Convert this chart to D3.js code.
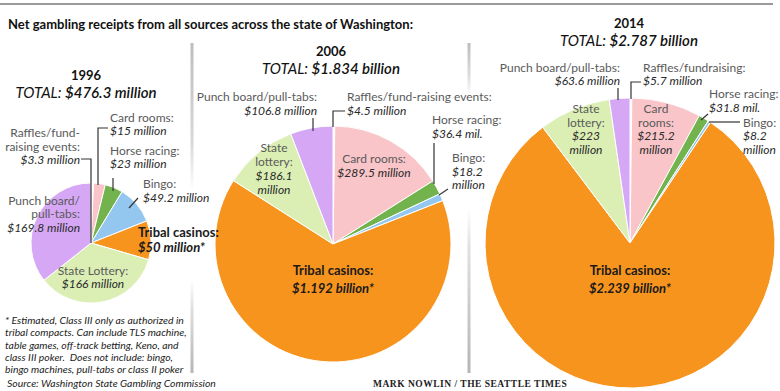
<!DOCTYPE html>
<html><head><meta charset="utf-8">
<script src="https://cdn.jsdelivr.net/npm/d3@7"></script>
<style>
html,body{margin:0;padding:0;background:#fff;}
svg{display:block;font-family:Lato,"Open Sans",sans-serif;}
.cat{fill:#5a5a5a;font-size:12px;}
.val{fill:#2a2a2a;font-size:12px;font-style:italic;}
.tri{fill:#1a1a1a;font-size:13px;font-weight:bold;}
.triv{fill:#1a1a1a;font-size:13px;font-weight:bold;font-style:italic;}
.yr{fill:#111;font-size:13px;font-weight:bold;}
.tot{fill:#111;font-size:15px;font-style:italic;}
.note{fill:#222;font-size:10.4px;font-style:italic;}
.lead{stroke:#333;stroke-width:1.2;fill:none;}
</style></head>
<body>
<svg id="c" width="780" height="391"></svg>
<script>
const categories = ["Raffles/fund-raising events","Card rooms","Horse racing","Bingo","Tribal casinos","State lottery","Punch board/pull-tabs"];
const colors = ["#ffffff","#f9c5c9","#72b34e","#93c7ef","#f7941d","#dbefb5","#d6a7f4"];
const values1996 = [3.3, 15, 23, 49.2, 50, 166, 169.8];
const values2006 = [4.5, 289.5, 36.4, 18.2, 1192, 186.1, 106.8];
const values2014 = [5.7, 215.2, 31.8, 8.2, 2239, 223, 63.6];
const years = ["1996","2006","2014"];
const totals = ["$476.3 million","$1.834 billion","$2.787 billion"];

const svg = d3.select("#c");
const defs = svg.append("defs");
function grad(id, stops){
  const g = defs.append("linearGradient").attr("id", id).attr("x1",0).attr("y1",0).attr("x2",0).attr("y2",1);
  stops.forEach(s => g.append("stop").attr("offset", s[0]).attr("stop-color", s[1]));
}
grad("g1", [[0,"#bdbdbd"],[0.3,"#d8d8d8"],[0.45,"#ffffff"],[0.72,"#ffffff"],[0.8,"#e0e0e0"],[1,"#b5b5b5"]]);
grad("g2", [[0,"#bdbdbd"],[0.1,"#dddddd"],[0.16,"#ffffff"],[0.5,"#ffffff"],[0.62,"#e0e0e0"],[1,"#b5b5b5"]]);

// top rule
svg.append("line").attr("x1",0).attr("x2",773).attr("y1",4).attr("y2",4).attr("stroke","#9a9a9a").attr("stroke-width",2);
// separators
svg.append("rect").attr("x",190.5).attr("y",43).attr("width",3).attr("height",330).attr("fill","url(#g1)");
svg.append("rect").attr("x",467.5).attr("y",43).attr("width",3).attr("height",330).attr("fill","url(#g2)");

// title
svg.append("text").attr("x",8).attr("y",29).attr("font-size",13).attr("font-weight","bold").attr("fill","#111")
  .text("Net gambling receipts from all sources across the state of Washington:");

const pie = d3.pie().sort(null).value(d => d);
function drawPie(vals, cx, cy, r){
  const arc = d3.arc().innerRadius(0).outerRadius(r);
  const g = svg.append("g").attr("transform", `translate(${cx},${cy})`);
  g.selectAll("path").data(pie(vals)).join("path")
    .attr("d", arc).attr("fill", (d,i) => colors[i])
    .attr("stroke", "#fff").attr("stroke-width", 1);
}
drawPie(values1996, 91, 243, 60);
drawPie(values2006, 333, 244, 118);
drawPie(values2014, 630, 243, 145);

function t(x, y, str, cls, anchor){
  return svg.append("text").attr("x",x).attr("y",y).attr("class",cls).attr("text-anchor",anchor||"start").text(str);
}
function lead(pts){
  svg.append("path").attr("class","lead").attr("d", d3.line()(pts));
}
function header(i, x, y){
  t(x, y, years[i], "yr", "middle");
  const tt = svg.append("text").attr("x",x).attr("y",y+18).attr("class","tot").attr("text-anchor","middle");
  tt.append("tspan").text("TOTAL: ");
  tt.append("tspan").attr("font-weight",600).text(totals[i]);
}

// ---- 1996 ----
header(0, 86, 80);
t(80,137,"Raffles/fund-","cat","end");
t(80,151,"raising events:","cat","end");
t(80,164,"$3.3 million","val","end");
lead([[81,159],[91,159],[91,243]]);
t(110,122,"Card rooms:","cat");
t(110,135,"$15 million","val");
lead([[108,128],[98,128],[98,185]]);
t(110,155,"Horse racing:","cat");
t(110,168,"$23 million","val");
lead([[113,178],[113,191]]);
t(143,188,"Bingo:","cat");
t(143,202,"$49.2 million","val");
lead([[138,198],[129,208]]);
t(80,205,"Punch board/","cat","end");
t(80,218,"pull-tabs:","cat","end");
t(80,232,"$169.8 million","val","end");
t(138,237,"Tribal casinos:","tri");
t(138,252,"$50 million*","triv");
t(93,275,"State Lottery:","cat","middle");
t(93,288,"$166 million","val","middle");

const notes = ["* Estimated, Class III only as authorized in",
  "tribal compacts. Can include TLS machine,",
  "table games, off-track betting, Keno, and",
  "class III poker.  Does not include: bingo,",
  "bingo machines, pull-tabs or class II poker"];
notes.forEach((s,i) => t(5, 324 + i*12.3, s, "note").attr("xml:space","preserve"));
t(7,387,"Source: Washington State Gambling Commission","note").attr("font-size",11);
svg.append("text").attr("x",373).attr("y",387).attr("font-family","'Liberation Serif','DejaVu Serif',serif")
  .attr("font-size",9.5).attr("font-weight","bold").attr("fill","#222").attr("letter-spacing",0.5)
  .text("MARK NOWLIN / THE SEATTLE TIMES");

// ---- 2006 ----
header(1, 331, 56);
t(317,101,"Punch board/pull-tabs:","cat","end");
t(317,115,"$106.8 million","val","end");
lead([[313,118],[313,131]]);
t(347,101,"Raffles/fund-raising events:","cat");
t(347,115,"$4.5 million","val");
lead([[345,111],[333,111],[333,127]]);
t(432,124,"Horse racing:","cat");
t(432,138,"$36.4 mil.","val");
lead([[434,143],[434,184]]);
t(452,162,"Bingo:","cat");
t(452,176,"$18.2","val");
t(452,189,"million","val");
lead([[448,189],[439,195]]);
t(374,163,"Card rooms:","cat","middle");
t(374,177,"$289.5 million","val","middle");
t(274,152,"State","cat","middle");
t(274,166,"lottery:","cat","middle");
t(274,180,"$186.1","val","middle");
t(274,194,"million","val","middle");
t(333,275,"Tribal casinos:","tri","middle");
t(333,293,"$1.192 billion*","triv","middle");

// ---- 2014 ----
header(2, 629, 28);
t(620,72,"Punch board/pull-tabs:","cat","end");
t(620,85,"$63.6 million","val","end");
lead([[618,88],[618,100]]);
t(643,72,"Raffles/fundraising:","cat");
t(643,85,"$5.7 million","val");
lead([[641,82],[631,82],[631,99]]);
t(709,98,"Horse racing:","cat");
t(709,112,"$31.8 mil.","val");
lead([[708,114],[701,120]]);
t(743,127,"Bingo:","cat");
t(743,140,"$8.2","val");
t(743,154,"million","val");
lead([[709,122],[740,122]]);
t(656,113,"Card","cat","middle");
t(656,127,"rooms:","cat","middle");
t(656,140,"$215.2","val","middle");
t(656,154,"million","val","middle");
t(586,113,"State","cat","middle");
t(586,127,"lottery:","cat","middle");
t(586,140,"$223","val","middle");
t(586,154,"million","val","middle");
t(630,275,"Tribal casinos:","tri","middle");
t(630,293,"$2.239 billion*","triv","middle");
</script>
</body></html>
